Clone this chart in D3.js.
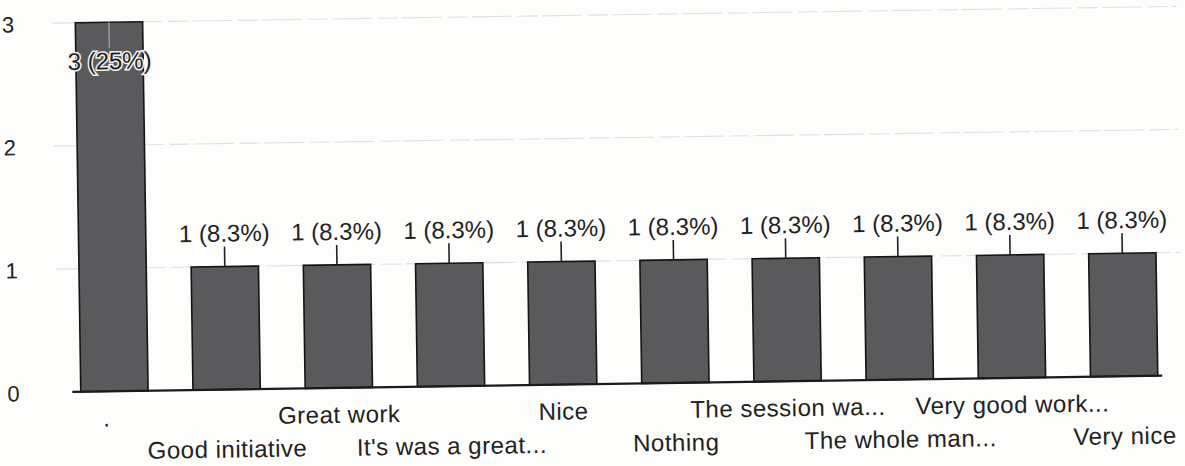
<!DOCTYPE html>
<html><head><meta charset="utf-8">
<script src="https://cdn.jsdelivr.net/npm/d3@7"></script>
<style>
html,body{margin:0;padding:0;background:#fdfdfc;}
svg{display:block;font-family:"Liberation Sans",Arial,sans-serif;}
</style></head>
<body>
<svg id="chart" width="1185" height="466"></svg>
<script>
const categories = [".", "Good initiative", "Great work", "It's was a great...", "Nice", "Nothing", "The session wa...", "The whole man...", "Very good work...", "Very nice"];
const counts = [3, 1, 1, 1, 1, 1, 1, 1, 1, 1];
const percents = ["25%", "8.3%", "8.3%", "8.3%", "8.3%", "8.3%", "8.3%", "8.3%", "8.3%", "8.3%"];
const yTicks = [0, 1, 2, 3];

const svg = d3.select("#chart");
const g = svg.append("g").attr("transform", "rotate(-0.85 600 230)");

const x = d3.scaleBand().domain(categories).range([56, 1178]).paddingInner(0.4).paddingOuter(0.2);
const y = d3.scaleLinear().domain([0, 3]).range([384, 15]);

// gridlines
g.append("g").selectAll("line").data(yTicks.filter(d => d > 0)).join("line")
  .attr("x1", 55).attr("x2", 1180)
  .attr("y1", d => y(d)).attr("y2", d => y(d))
  .attr("stroke", "#e0e0e0").attr("stroke-width", 1.1).attr("stroke-dasharray", "40 6 20 4");

// y labels
g.append("g").selectAll("text").data(yTicks).join("text")
  .attr("x", 5).attr("y", d => y(d) + 1).attr("dy", "0.35em")
  .attr("font-size", 22).attr("fill", "#222").text(d => d);

// bars
g.append("g").selectAll("rect").data(categories).join("rect")
  .attr("x", d => x(d)).attr("width", x.bandwidth())
  .attr("y", (d, i) => y(counts[i])).attr("height", (d, i) => y(0) - y(counts[i]))
  .attr("fill", "#5a5a5d").attr("stroke", "#141414").attr("stroke-width", 1.6);

// axis baseline
g.append("line").attr("x1", 70).attr("x2", 1160).attr("y1", y(0)).attr("y2", y(0))
  .attr("stroke", "#1a1a1a").attr("stroke-width", 2.2);

// value labels + leaders
const maxV = d3.max(counts);
categories.forEach((c, i) => {
  const cx = x(c) + x.bandwidth() / 2;
  const label = counts[i] + " (" + percents[i] + ")";
  if (counts[i] === maxV) {
    g.append("line").attr("x1", cx).attr("x2", cx).attr("y1", y(counts[i])).attr("y2", y(counts[i]) + 26)
      .attr("stroke", "#9a9a9e").attr("stroke-width", 1.5);
    g.append("text").attr("x", cx).attr("y", y(counts[i]) + 47).attr("text-anchor", "middle")
      .attr("font-size", 24).attr("fill", "#222").attr("stroke", "#f4f4f4").attr("stroke-width", 3)
      .attr("paint-order", "stroke").text(label);
  } else {
    g.append("line").attr("x1", cx).attr("x2", cx).attr("y1", y(counts[i]) - 20).attr("y2", y(counts[i]))
      .attr("stroke", "#222").attr("stroke-width", 1.6);
    g.append("text").attr("x", cx).attr("y", y(counts[i]) - 25).attr("text-anchor", "middle")
      .attr("font-size", 24).attr("fill", "#222").text(label);
  }
});

// x category labels, alternating rows
g.append("g").selectAll("text").data(categories).join("text")
  .attr("x", (d, i) => x(d) + x.bandwidth() / 2 - (i === 0 ? 8 : 0))
  .attr("y", (d, i) => i % 2 === 0 ? 419 : 452)
  .attr("text-anchor", "middle").attr("font-size", 24).attr("letter-spacing", 0.5).attr("fill", "#222")
  .text(d => d);
</script>
</body></html>
